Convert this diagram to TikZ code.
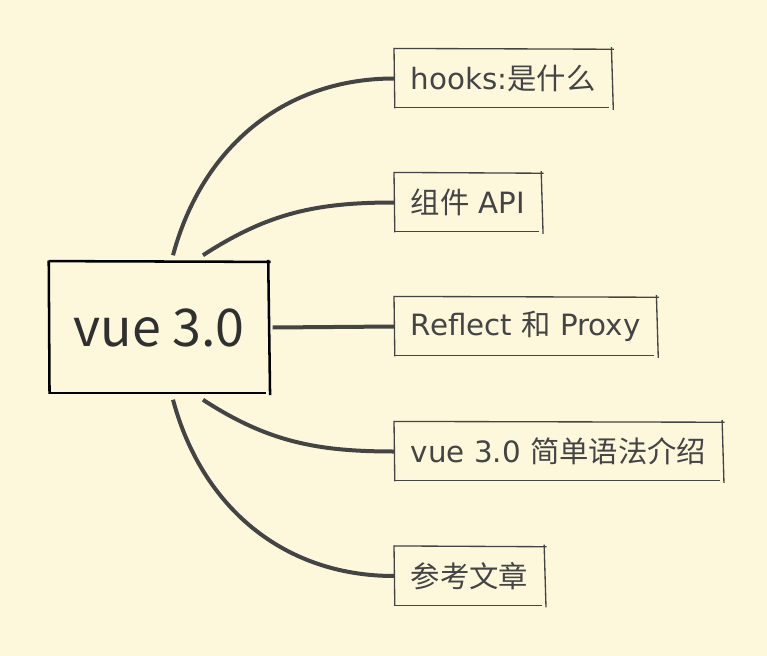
\documentclass[tikz,border=0pt]{standalone}
\usepackage{fontspec}
\setmainfont{DejaVu Sans}
\newfontfamily\cjk{Noto Sans CJK SC}
\definecolor{paper}{HTML}{FDF8DC}
\definecolor{ink}{HTML}{444444}
\tikzset{
  root/.style={minimum width=165pt, minimum height=98pt, inner sep=0pt, text=ink!70!black, font=\cjk\fontsize{39pt}{46pt}\selectfont},
  topic/.style={anchor=west, inner xsep=12.5pt, inner ysep=0pt, minimum height=43.5pt, text=ink, font=\fontsize{22pt}{26pt}\selectfont},
  branch/.style={ink, line width=3pt},
}
% hand drawn box round a node
\newcommand{\roughbox}[2][]{%
  \draw[#1] ([yshift=0.6pt]#2.north west) -- ([xshift=1pt]#2.north east);
  \draw[#1] ([xshift=-0.8pt,yshift=1.5pt]#2.north east) -- ([xshift=0.6pt,yshift=-1.5pt]#2.south east);
  \draw[#1] ([xshift=-2.5pt]#2.south east) -- ([xshift=0.6pt]#2.south west);
  \draw[#1] ([xshift=0.6pt,yshift=-0.5pt]#2.south west) -- ([yshift=1pt]#2.north west);
}

\begin{document}
\begin{tikzpicture}[x=0.75pt,y=0.75pt]
                \fill[paper] (0,0) rectangle (767,-656);
                \useasboundingbox (0,0) rectangle (767,-656);
                \node[root] (vue) at (159,-327.5) {vue 3.0};
                \node[topic] (hooks) at (394,-78.5) {hooks:{\cjk 是什么}};
                \node[topic] (api) at (394,-202.5) {{\cjk 组件} API};
                \node[topic] (reflect) at (394,-326.5) {Reflect {\cjk 和} Proxy};
                \node[topic] (syntax) at (394,-451.5) {vue 3.0 {\cjk 简单语法介绍}};
                \node[topic] (refs) at (394,-576) {{\cjk 参考文章}};
                \roughbox[black,line width=1.9pt]{vue}
                \foreach \n in {hooks,api,reflect,syntax,refs}{\roughbox[ink,line width=1pt]{\n}}
                \draw[branch] ([xshift=10.5pt,yshift=5pt]vue.north) to[out=75,in=180] (hooks.west);
                \draw[branch] ([xshift=33pt,yshift=5pt]vue.north) to[out=33,in=180] (api.west);
                \draw[branch] ([xshift=2.5pt]vue.east) -- (reflect.west);
                \draw[branch] ([xshift=33pt,yshift=-5pt]vue.south) to[out=-33,in=180] (syntax.west);
                \draw[branch] ([xshift=10.5pt,yshift=-5pt]vue.south) to[out=-75,in=180] (refs.west);
            \end{tikzpicture}
\end{document}
